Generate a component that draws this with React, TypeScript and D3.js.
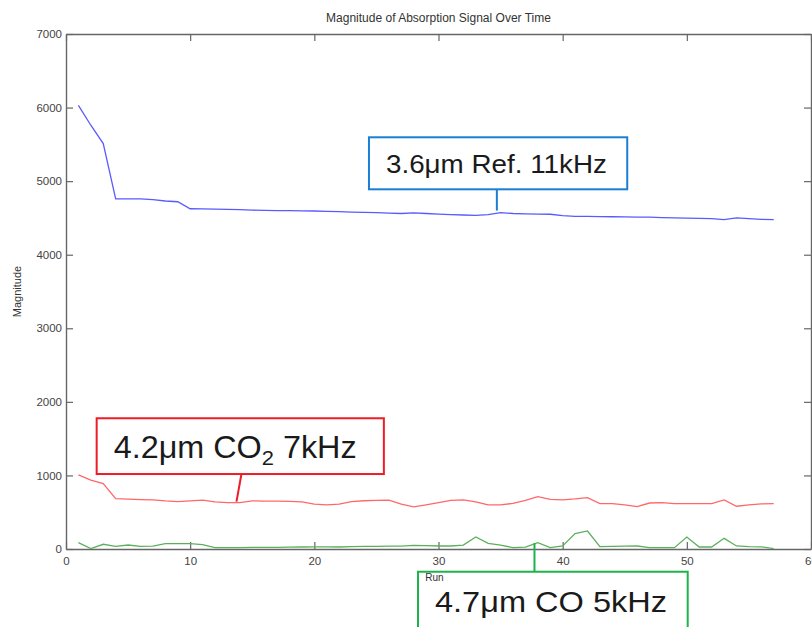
import React, {useEffect, useRef} from "react"
import * as d3 from "d3"

// runs 1..57
const runs: number[] = d3.range(1, 58)

const refSignal = [6030, 5760, 5510, 4760, 4760, 4760, 4750, 4730, 4720, 4625,
    4622, 4620, 4615, 4612, 4605, 4603, 4600, 4598, 4596, 4594,
    4590, 4585, 4580, 4576, 4572, 4566, 4560, 4570, 4560, 4552,
    4545, 4540, 4535, 4545, 4572, 4560, 4555, 4552, 4550, 4530,
    4521, 4520, 4518, 4516, 4514, 4512, 4510, 4505, 4500, 4498,
    4495, 4490, 4476, 4500, 4490, 4480, 4476]

const co2Signal = [1008, 935, 890, 685, 678, 672, 667, 654, 645, 654,
    663, 640, 631, 631, 654, 652, 650, 647, 640, 610,
    599, 610, 645, 656, 660, 663, 610, 572, 600, 631,
    660, 667, 640, 599, 599, 620, 660, 712, 675, 667,
    680, 699, 617, 617, 600, 575, 625, 631, 617, 617,
    617, 617, 667, 581, 600, 612, 617]

const coSignal = [86, 5, 64, 36, 54, 36, 40, 73, 73, 73,
    60, 18, 20, 20, 22, 22, 22, 25, 27, 30,
    30, 27, 32, 35, 36, 38, 40, 50, 45, 41,
    41, 54, 163, 77, 54, 18, 25, 86, 18, 41,
    209, 245, 32, 36, 38, 41, 18, 18, 18, 163,
    27, 27, 145, 41, 32, 30, 5]

const xTicks = [0, 10, 20, 30, 40, 50, 60]
const yTicks = [0, 1000, 2000, 3000, 4000, 5000, 6000, 7000]

const series = [
    {name: "ref", values: refSignal, color: "#5a5aff"},
    {name: "co2", values: co2Signal, color: "#ff6868"},
    {name: "co", values: coSignal, color: "#5cb05c"},
]

// callouts, box and leader given in data units (run, magnitude)
const callouts = [
    {text: "3.6μm Ref. 11kHz", sub: "", tail: "", color: "#1a7fd4", x0: 24.4, x1: 45.2, y0: 5596, y1: 4889,
        leadX0: 34.7, leadX1: 34.7, leadY: 4600, size: 26, len: 221, base: 35.5},
    {text: "4.2μm CO", sub: "2", tail: " 7kHz", color: "#ee1c24", x0: 2.47, x1: 25.6, y0: 1777, y1: 1019,
        leadX0: 14.13, leadX1: 13.73, leadY: 643, size: 31, len: 243, base: 40},
    {text: "4.7μm CO 5kHz", sub: "", tail: "", color: "#1db34a", x0: 28.35, x1: 50.07, y0: -309, y1: -1300,
        leadX0: 37.73, leadX1: 37.73, leadY: 82, size: 30, len: 232, base: 40},
]

const width = 812
const height = 627
const margin = {top: 34, right: 1, bottom: 78, left: 66}

const App = () => {
    const ref = useRef(null)

    useEffect(() => {
        const svg = d3.select(ref.current)
        svg.selectAll("*").remove()

        const x = d3.scaleLinear().domain([0, 60]).range([margin.left, width - margin.right])
        const y = d3.scaleLinear().domain([0, 7000]).range([height - margin.bottom, margin.top])

        svg.append("rect").attr("width", width).attr("height", height).attr("fill", "#fff")

        const axisColor = "#666"
        const styleAxis = (g: any) => {
            g.selectAll(".domain").attr("stroke", axisColor).attr("stroke-width", 1.4)
            g.selectAll(".tick line").attr("stroke", axisColor).attr("stroke-width", 1.2)
            g.selectAll(".tick text").attr("fill", "#444")
                .style("font-family", "'Liberation Sans', Arial, sans-serif").style("font-size", "11.5px")
        }

        svg.append("g")
            .attr("transform", `translate(0,${y(0)})`)
            .call(d3.axisBottom(x).tickValues(xTicks).tickFormat(d3.format("d")).tickSizeInner(-7).tickSizeOuter(0).tickPadding(8))
            .call(styleAxis)
        svg.append("g")
            .attr("transform", `translate(0,${y(7000)})`)
            .call(d3.axisTop(x).tickValues(xTicks).tickFormat(() => "").tickSizeInner(-7).tickSizeOuter(0))
            .call(styleAxis)
        svg.append("g")
            .attr("transform", `translate(${x(0)},0)`)
            .call(d3.axisLeft(y).tickValues(yTicks).tickFormat(d3.format("d")).tickSizeInner(-7).tickSizeOuter(0).tickPadding(4))
            .call(styleAxis)
        svg.append("g")
            .attr("transform", `translate(${x(60)},0)`)
            .call(d3.axisRight(y).tickValues(yTicks).tickFormat(() => "").tickSizeInner(-7).tickSizeOuter(0))
            .call(styleAxis)

        const line = d3.line<number>()
            .x((_, i) => x(runs[i]))
            .y(d => y(d))

        series.forEach(s => {
            svg.append("path")
                .datum(s.values)
                .attr("fill", "none")
                .attr("stroke", s.color)
                .attr("stroke-width", 1.3)
                .attr("d", line)
        })

        const font = "'Liberation Sans', Arial, sans-serif"

        svg.append("text")
            .attr("x", (x(0) + x(60)) / 2).attr("y", 22)
            .attr("text-anchor", "middle")
            .style("font-family", font).style("font-size", "12px").attr("fill", "#333")
            .text("Magnitude of Absorption Signal Over Time")

        svg.append("text")
            .attr("transform", `translate(21,${(y(0) + y(7000)) / 2}) rotate(-90)`)
            .attr("text-anchor", "middle")
            .style("font-family", font).style("font-size", "11px").attr("fill", "#333")
            .text("Magnitude")

        callouts.forEach(c => {
            svg.append("line")
                .attr("x1", x(c.leadX0)).attr("x2", x(c.leadX1))
                .attr("y1", c.y1 < 0 ? y(c.y0) : y(c.y1)).attr("y2", y(c.leadY))
                .attr("stroke", c.color).attr("stroke-width", 2)
            svg.append("rect")
                .attr("x", x(c.x0)).attr("y", y(c.y0))
                .attr("width", x(c.x1) - x(c.x0)).attr("height", y(c.y1) - y(c.y0))
                .attr("fill", "#fff").attr("stroke", c.color).attr("stroke-width", 2)
            const t = svg.append("text")
                .attr("x", x(c.x0) + 17).attr("y", y(c.y0) + c.base)
                .attr("textLength", c.len).attr("lengthAdjust", "spacingAndGlyphs")
                .style("font-family", font).style("font-size", `${c.size}px`).attr("fill", "#1a1a1a")
            t.append("tspan").text(c.text)
            if (c.sub) {
                t.append("tspan").attr("dy", 7).style("font-size", "21px").text(c.sub)
                t.append("tspan").attr("dy", -7).text(c.tail)
            }
        })

        // x label sits on top of the green box
        svg.append("text")
            .attr("x", x(0) + (x(60) - x(0)) / 2 - 4).attr("y", 581)
            .attr("text-anchor", "middle")
            .style("font-family", font).style("font-size", "10px").attr("fill", "#333")
            .text("Run")
    })

    return (
        <svg
            width={width}
            height={height}
            ref={ref}
            style={{position: "absolute", left: 0, top: 0}}
        />
    )
}

export default App
